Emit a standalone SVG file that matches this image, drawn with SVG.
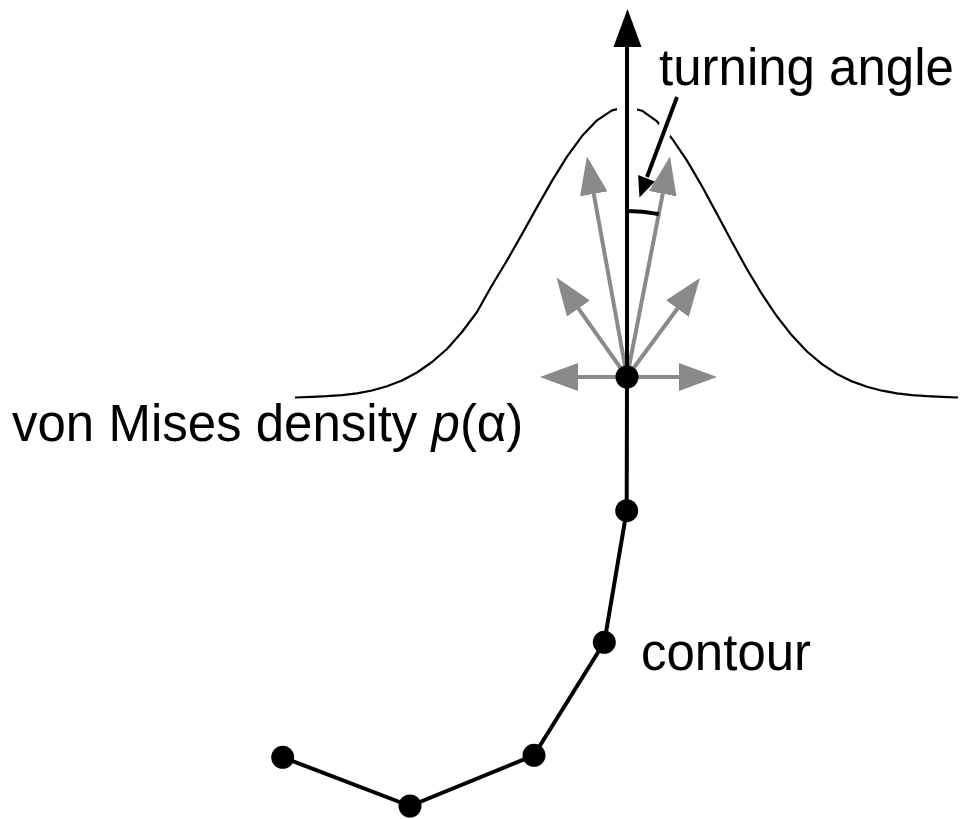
<svg xmlns="http://www.w3.org/2000/svg" width="967" height="819" viewBox="0 0 967 819">
<style>
.lbl{font-family:"Liberation Sans",Arial,Helvetica,sans-serif;font-size:51px;fill:#000}
.curve{fill:none;stroke:#000;stroke-width:2.2;stroke-linejoin:round}
.halo{stroke:#fff;fill:none}
.gray{stroke:#8a8a8a;stroke-width:4;fill:none}
.blk{stroke:#000;stroke-width:4;fill:none;stroke-linejoin:round}
.dot{fill:#000}
</style>
<defs>
<marker id="gh" markerUnits="userSpaceOnUse" viewBox="0 -14 38 28" markerWidth="38" markerHeight="28" refX="2" refY="0" orient="auto">
<path d="M0,-14 L38,0 L0,14 z" fill="#8a8a8a"/>
</marker>
</defs>
<rect width="967" height="819" fill="#fff"/>
<g id="density-curve">
<path class="curve" d="M295,397.5 L312,396.9 L327,396.2 L342,395.1 L357,393.3 L372,390.5 L387,386.3 L402,380.5 L417,372.5 L432,362 L447,349 L462,332 L477,312 L492,285.3 L507,260.5 L522,234.1 L537,207.1 L552,180.9 L567,156.7 L582,136.1 L597,120.3 L612,110.4 L627,107 L642,110.7 L657,121.4 L672,138.5 L687,160.6 L702,186.3 L717,214 L732,242.1 L747,269.2 L762,294.2 L777,316.5 L792,335.6 L807,351.5 L822,364.2 L837,374 L852,381.4 L867,386.8 L882,390.7 L897,393.3 L912,395.1 L927,396.2 L942,396.9 L958,397.5"/>
<line class="halo" x1="627" y1="90" x2="627" y2="130" stroke-width="20"/>
<line class="halo" x1="670" y1="115" x2="658" y2="148" stroke-width="14"/>
</g>
<g id="connectors">
<g id="candidate-directions">
<line class="gray" x1="627" y1="377" x2="576" y2="377" marker-end="url(#gh)"/>
<line class="gray" x1="627" y1="377" x2="681" y2="377" marker-end="url(#gh)"/>
<line class="gray" x1="627" y1="377" x2="577.3" y2="306.9" marker-end="url(#gh)"/>
<line class="gray" x1="627" y1="377" x2="678.6" y2="307" marker-end="url(#gh)"/>
<line class="gray" x1="627" y1="377" x2="593.4" y2="191.9" marker-end="url(#gh)"/>
<line class="gray" x1="627" y1="377" x2="663.1" y2="191.8" marker-end="url(#gh)"/>
</g>
<g id="contour-line">
<polyline class="blk" points="282.7,757.3 410,806 534,755.3 604.3,642.3 626.7,510.7 627,377"/>
</g>
<g id="heading-arrow">
<line class="blk" x1="627" y1="377" x2="627" y2="45"/>
<polygon points="627.5,9 641.5,47 613.5,47" fill="#000"/>
</g>
<g id="turning-angle-arc">
<path class="blk" stroke-width="3" d="M627,211 A166,166 0 0 1 658.8,214.1"/>
</g>
<g id="turning-angle-pointer">
<line class="blk" x1="677" y1="97" x2="647" y2="177"/>
<polygon points="639.5,197.5 638.1,175.1 654.9,181.5" fill="#000"/>
</g>
</g>
<g id="node-1"><circle class="dot" cx="282.7" cy="757.3" r="11.5"/></g>
<g id="node-2"><circle class="dot" cx="410" cy="806" r="11.5"/></g>
<g id="node-3"><circle class="dot" cx="534" cy="755.3" r="11.5"/></g>
<g id="node-4"><circle class="dot" cx="604.3" cy="642.3" r="11.5"/></g>
<g id="node-5"><circle class="dot" cx="626.7" cy="510.7" r="11.5"/></g>
<g id="node-6"><circle class="dot" cx="627" cy="377" r="11.5"/></g>
<g id="label-turning-angle"><text class="lbl" x="659" y="85">turning angle</text></g>
<g id="label-density"><text class="lbl" x="12" y="441">von Mises density <tspan font-style="italic">p</tspan>(α)</text></g>
<g id="label-contour"><text class="lbl" x="641" y="670">contour</text></g>
</svg>
